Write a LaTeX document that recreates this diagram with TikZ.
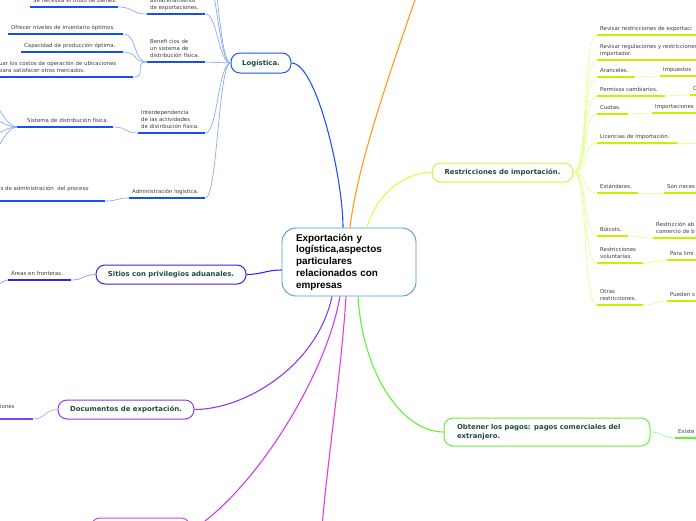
\documentclass[tikz,border=0pt]{standalone}
\usepackage{fontspec}
\setmainfont{DejaVu Sans}
\newfontfamily\cenfont{Liberation Sans}
\definecolor{cborder}{HTML}{4A9AD6}
\definecolor{logblue}{HTML}{1F55E8}
\definecolor{logul}{HTML}{1650EE}
\definecolor{logcon}{HTML}{8AAAF5}
\definecolor{ygmain}{HTML}{D8FF44}
\definecolor{ygborder}{HTML}{CCF54A}
\definecolor{ygul}{HTML}{C8F000}
\definecolor{ygcon}{HTML}{E2FF99}
\definecolor{orangeL}{HTML}{FF9A1A}
\definecolor{sitcol}{HTML}{3A22E6}
\definecolor{sitcon}{HTML}{9A90F0}
\definecolor{doccol}{HTML}{8A3CF2}
\definecolor{doccon}{HTML}{C49AF8}
\definecolor{magcol}{HTML}{D43CF2}
\definecolor{pinkcol}{HTML}{EE3CDC}
\definecolor{grcol}{HTML}{66F033}
\definecolor{grcon}{HTML}{A8F890}
\definecolor{ntext}{HTML}{1E4D3C}
\definecolor{ltext}{HTML}{3C3C3C}
\newcommand\lfx[1]{\noindent\makebox[0pt][l]{\begin{tabular}[b]{@{}l@{}}#1\end{tabular}}}
\tikzset{
  central/.style={draw=cborder, line width=0.9pt, rounded corners=14pt, fill=white,
    minimum width=134pt, minimum height=68pt, text width=106pt, align=left, inner sep=0pt,
    font=\cenfont\bfseries\fontsize{9.9}{11.75}\selectfont, text=black},
  topic/.style={draw=#1, line width=1pt, rounded corners=9pt, fill=white, inner sep=0pt,
    font=\bfseries\fontsize{6.9}{8.6}\selectfont, text=ntext, align=left},
  leaf/.style={anchor=south west, inner xsep=3pt, inner ysep=2pt, text width=#1pt,
    text=ltext, font=\fontsize{5.4}{7}\selectfont},
  ul/.style={append after command={(\tikzlastnode.south west) edge[draw=#1, line width=1.3pt] (\tikzlastnode.south east)}},
  con/.style={draw=#1, line width=0.7pt},
  mainc/.style={draw=#1, line width=1.1pt}
}
\begin{document}
\begin{tikzpicture}[x=1pt,y=-1pt]
\useasboundingbox (0,0) rectangle (696,520);
\clip (0,0) rectangle (696,520);

% ---------- main nodes ----------
\node[central] (c) at (349,262) {Exportación y\\logística,aspectos\\particulares\\relacionados con\\empresas};
\node[topic=logblue, minimum width=60pt, minimum height=20pt, align=center] (log) at (261,63) {Logística.};
\node[topic=ygborder, minimum width=141pt, minimum height=19pt, align=center] (res) at (502.5,172.5) {Restricciones de importación.};
\node[topic=sitcol, minimum width=150pt, minimum height=19pt, align=center] (sit) at (171,274.5) {Sitios con privilegios aduanales.};
\node[topic=doccol, minimum width=136pt, minimum height=19pt, align=center] (doc) at (126,409.5) {Documentos de exportación.};
\node[topic=grcol, minimum width=206pt, minimum height=28pt, text width=180pt] (obt) at (547,432) {Obtener los pagos: pagos comerciales del\\extranjero.};
\node[topic=magcol, minimum width=99pt, minimum height=26pt] (mg) at (140.5,531) {};

\coordinate (oend) at (420,-15);
\coordinate (pend) at (321,540);

% ---------- main connectors ----------
\draw[mainc=logblue] ([xshift=-6pt]c.north) .. controls +(0,-50) and +(25,0) .. (log.east);
\draw[mainc=orangeL] ([xshift=1pt]c.north) .. controls +(8,-70) and +(-20,60) .. (oend);
\draw[mainc=ygmain] ([xshift=18pt]c.north) .. controls +(8,-30) and +(-30,0) .. (res.west);
\draw[mainc=sitcol] ([yshift=-8pt]c.west) .. controls +(-15,0) and +(15,0) .. (sit.east);
\draw[mainc=doccol] ([xshift=-17pt]c.south) .. controls +(-15,70) and +(50,0) .. (doc.east);
\draw[mainc=magcol] ([xshift=-9pt]c.south) .. controls +(-15,84) and +(60,-36) .. (mg.east);
\draw[mainc=pinkcol] ([xshift=-3pt]c.south) .. controls +(-5,80) and +(6,-80) .. (pend);
\draw[mainc=grcol] ([xshift=9pt]c.south) .. controls +(5,80) and +(-40,0) .. (obt.west);

% ---------- Logistica branch ----------
\node[leaf=52, ul=logul] (l1) at (147,14) {\lfx{almacenamiento\\de exportaciones.}};
\node[leaf=82, ul=logul] (l1a) at (30,7) {\lfx{Se necesita el título de bienes.}};
\node[leaf=52, ul=logul] (l2) at (147,62) {\lfx{Benefi cios de\\un sistema de\\distribución física.}};
\node[leaf=109, ul=logul] (l2a) at (8,34) {\lfx{Ofrecer niveles de inventario óptimos.}};
\node[leaf=96, ul=logul] (l2b) at (21,52) {\lfx{Capacidad de producción óptima.}};
\node[leaf=131, ul=logul] (l2c) at (-4,77) {\lfx{uar los costos de operación de ubicaciones\\para satisfacer otros mercados.}};
\node[leaf=61, ul=logul] (l3) at (138,133) {\lfx{Interdependencia\\de las actividades\\de distribución física.}};
\node[leaf=90, ul=logul] (l3a) at (17,127) {\lfx{\hspace{7pt}Sistema de distribución física.}};
\node[leaf=70, ul=logul] (l4) at (129,198) {\lfx{Administración logística.}};
\node[leaf=105, ul=logul, inner ysep=8pt] (l4a) at (-6,201) {\lfx{as de administración\ \ del proceso}};

\coordinate (lu1) at (205,-25);
\coordinate (lu2) at (205,-55);
\coordinate (s1) at (-12,100);
\coordinate (s2) at (-12,118);
\coordinate (s3) at (-12,136);
\coordinate (s4) at (-12,155);

\foreach \t in {l1,l2,l3,l4}
  \draw[con=logcon] (log.west) .. controls +(-12,0) and +(12,0) .. (\t.south east);
\foreach \t in {lu1,lu2}
  \draw[con=logcon] (log.west) .. controls +(-12,0) and +(12,0) .. (\t);
\draw[con=logcon] (l1.south west) .. controls +(-15,0) and +(15,0) .. (l1a.south east);
\foreach \t in {l2a,l2b,l2c}
  \draw[con=logcon] (l2.south west) .. controls +(-14,0) and +(14,0) .. (\t.south east);
\draw[con=logcon] (l3.south west) .. controls +(-14,0) and +(14,0) .. (l3a.south east);
\foreach \t in {s1,s2,s3,s4}
  \draw[con=logcon] (l3a.south west) .. controls +(-12,0) and +(10,0) .. (\t);
\draw[con=logcon] (l4.south west) .. controls +(-14,0) and +(14,0) .. (l4a.south east);

% ---------- Restricciones branch ----------
\node[leaf=130, ul=ygul] (r1) at (597,35) {\lfx{Revisar restricciones de exportaci}};
\node[leaf=130, ul=ygul] (r2) at (597,60) {\lfx{Revisar regulaciones y restricciones\\importador.}};
\node[leaf=32, ul=ygul] (r3) at (597,77) {\lfx{Aranceles.}};
\node[leaf=40, ul=ygul] (r3a) at (660,76) {\lfx{Impuestos}};
\node[leaf=62, ul=ygul] (r4) at (597,96) {\lfx{Permisos cambiarios.}};
\node[leaf=10, ul=ygul] (r4a) at (690,95) {\lfx{C}};
\node[leaf=25, ul=ygul] (r5) at (597,114) {\lfx{Cuotas.}};
\node[leaf=50, ul=ygul] (r5a) at (652,113) {\lfx{Importaciones}};
\node[leaf=74, ul=ygul] (r6) at (597,143) {\lfx{Licencias de importación.}};
\node[leaf=35, ul=ygul] (r7) at (597,193) {\lfx{Estándares.}};
\node[leaf=40, ul=ygul] (r7a) at (664,193) {\lfx{Son neces}};
\node[leaf=25, ul=ygul] (r8) at (597,236) {\lfx{Boicots.}};
\node[leaf=50, ul=ygul] (r8a) at (653,238) {\lfx{Restricción ab\\comercio de b}};
\node[leaf=40, ul=ygul] (r9) at (597,263) {\lfx{Restricciones\\voluntarias.}};
\node[leaf=40, ul=ygul] (r9a) at (667,260) {\lfx{Para limi}};
\node[leaf=40, ul=ygul] (r10) at (597,305) {\lfx{Otras\\restricciones.}};
\node[leaf=40, ul=ygul] (r10a) at (667,301) {\lfx{Pueden s}};
\coordinate (r6x) at (712,143);

\foreach \t in {r1,r2,r3,r4,r5,r6,r7,r8,r9,r10}
  \draw[con=ygcon] (res.east) .. controls +(15,0) and +(-15,0) .. (\t.south west);
\draw[con=ygcon] (r3.south east) .. controls +(12,0) and +(-12,0) .. (r3a.south west);
\draw[con=ygcon] (r4.south east) .. controls +(12,0) and +(-12,0) .. (r4a.south west);
\draw[con=ygcon] (r5.south east) .. controls +(12,0) and +(-12,0) .. (r5a.south west);
\draw[con=ygcon] (r6.south east) -- (r6x);
\draw[con=ygcon] (r7.south east) .. controls +(12,0) and +(-12,0) .. (r7a.south west);
\draw[con=ygcon] (r8.south east) .. controls +(12,0) and +(-12,0) .. (r8a.south west);
\draw[con=ygcon] (r9.south east) .. controls +(12,0) and +(-12,0) .. (r9a.south west);
\draw[con=ygcon] (r10.south east) .. controls +(12,0) and +(-12,0) .. (r10a.south west);

% ---------- Sitios branch ----------
\node[leaf=57, ul=sitcol] (a1) at (8,280) {\lfx{Áreas en fronteras.}};
\coordinate (a1x) at (-12,290);
\draw[con=sitcon] (sit.west) .. controls +(-12,0) and +(12,0) .. (a1.south east);
\draw[con=sitcon] (a1.south west) .. controls +(-6,0) and +(6,0) .. (a1x);

% ---------- Documentos branch ----------
\node[leaf=33, ul=doccol, inner ysep=8pt] (d1) at (-6,419) {\lfx{ciones}};
\draw[con=doccon] (doc.west) .. controls +(-12,0) and +(12,0) .. (d1.south east);

% ---------- Obtener branch ----------
\node[leaf=30, ul=grcol] (o1) at (675,438) {\lfx{Existe}};
\draw[con=grcon] (obt.east) .. controls +(12,0) and +(-12,0) .. (o1.south west);
\end{tikzpicture}
\end{document}
